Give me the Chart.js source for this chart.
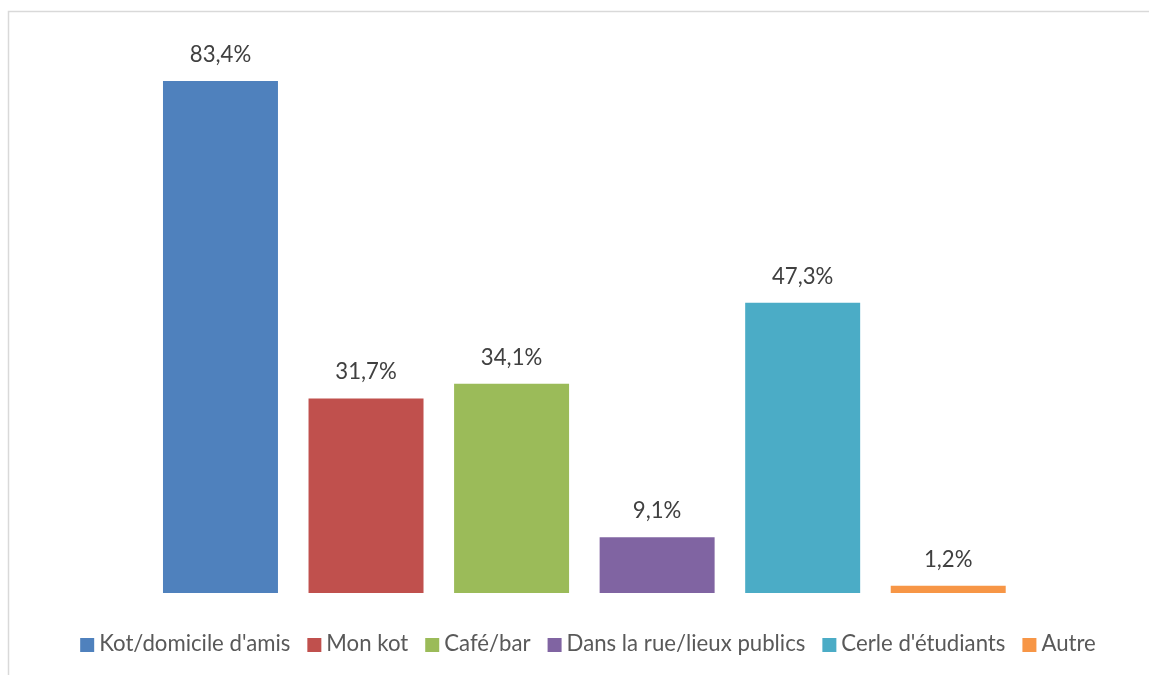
<!DOCTYPE html>
<html>
<head>
<meta charset="utf-8">
<script src="https://cdn.jsdelivr.net/npm/chart.js@4/dist/chart.umd.min.js"></script>
<style>
  html, body { margin: 0; padding: 0; background: #fff; overflow: hidden; }
  #wrap { position: relative; width: 1149px; height: 675px; }
</style>
</head>
<body>
<div id="wrap"><canvas id="lieux"></canvas></div>
<script>
// Where people go out: share of respondents per place (%)
const places = ["Kot/domicile d'amis", "Mon kot", "Café/bar", "Dans la rue/lieux publics", "Cerle d'étudiants", "Autre"];
const shares = [83.4, 31.7, 34.1, 9.1, 47.3, 1.2];
const colors = ["#4F81BD", "#C0504D", "#9BBB59", "#8064A2", "#4BACC6", "#F79646"];

const FONT = "Lato, 'Liberation Sans', sans-serif";
const FONT_SIZE = 22.2;
const TEXT_COLOR = "#404040";

const fmt = (v) => v.toFixed(1).replace(".", ",") + "%";

// frame + value labels + legend, all drawn straight on the canvas
const decorations = {
  id: "decorations",
  beforeDraw(chart) {
    const c = chart.ctx;
    c.save();
    c.strokeStyle = "#d9d9d9";
    c.lineWidth = 1.5;
    c.strokeRect(8.5, 11.5, 1300, 800);
    c.restore();
  },
  afterDatasetsDraw(chart) {
    const c = chart.ctx;
    const meta = chart.getDatasetMeta(0);
    c.save();
    c.font = FONT_SIZE + "px " + FONT;
    c.fillStyle = TEXT_COLOR;
    c.textAlign = "center";
    c.textBaseline = "alphabetic";
    meta.data.forEach((bar, i) => {
      c.fillText(fmt(shares[i]), bar.x, bar.y - 19);
    });

    // legend
    const box = 14, gapText = 5, gapItem = 17;
    const widths = places.map((p) => c.measureText(p).width);
    const total = widths.reduce((s, w) => s + box + gapText + w, 0) + gapItem * (places.length - 1);
    let x = 588 - total / 2;
    c.textAlign = "left";
    places.forEach((p, i) => {
      c.fillStyle = colors[i];
      c.fillRect(x, 638, box, box);
      c.fillStyle = "#595959";
      c.fillText(p, x + box + gapText, 651);
      x += box + gapText + widths[i] + gapItem;
    });
    c.restore();
  },
};

new Chart(document.getElementById("lieux"), {
  type: "bar",
  data: {
    labels: places,
    datasets: [{
      data: shares,
      backgroundColor: colors,
      borderWidth: 0,
      categoryPercentage: 1,
      barPercentage: 0.79,
    }],
  },
  options: {
    responsive: true,
    maintainAspectRatio: false,
    animation: false,
    layout: { padding: { top: 40.5, bottom: 82, left: 147.7, right: 128 } },
    scales: {
      x: { display: false },
      y: { display: false, min: 0, max: 90 },
    },
    plugins: {
      legend: { display: false },
      tooltip: { enabled: false },
    },
  },
  plugins: [decorations],
});
</script>
</body>
</html>
